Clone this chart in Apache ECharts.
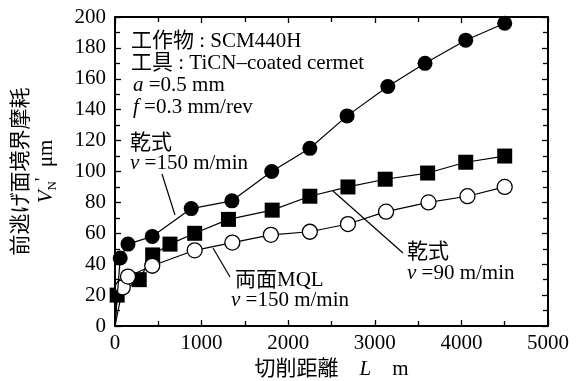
<!DOCTYPE html>
<html lang="ja">
<head>
<meta charset="utf-8">
<script src="https://cdn.jsdelivr.net/npm/echarts@6/dist/echarts.min.js"></script>
<style>html,body{margin:0;padding:0;background:#fff;}</style>
</head>
<body>
<div id="wearChart" style="width:579px;height:381px;"></div>
<script type="text/javascript">

// cutting length L (m) and flank notch wear VN' (um)
var lenDry150  = [0, 60, 150, 430, 880, 1350, 1810, 2250, 2680, 3150, 3580, 4050, 4500];
var wearDry150 = [0, 44, 53, 58, 76, 81, 100, 115, 136, 155, 170, 185, 196];

var lenDry90  = [0, 25, 280, 435, 635, 920, 1310, 1815, 2250, 2690, 3120, 3610, 4050, 4500];
var wearDry90 = [0, 20, 30, 46, 53, 60, 69, 75, 84, 90, 95, 99, 106, 110];

var lenMql150  = [0, 90, 150, 430, 920, 1355, 1800, 2250, 2690, 3130, 3620, 4070, 4500];
var wearMql150 = [0, 25, 32, 39, 49, 54, 59, 61, 66, 74, 80, 84, 90];

var xTicks = [0, 1000, 2000, 3000, 4000, 5000];
var yTicks = [0, 20, 40, 60, 80, 100, 120, 140, 160, 180, 200];

var FONT = "'Liberation Serif', 'Noto Sans CJK JP', serif";
var FS = 21;

function pairs(xs, ys) {
    return xs.map(function (x, i) {
        var item = { value: [x, ys[i]] };
        if (i === 0) item.symbol = 'none';   // line starts at the origin, no marker
        return item;
    });
}

function frameAxis(pos, ticks, showLabel) {
    return {
        type: 'value',
        position: pos,
        min: ticks[0],
        max: ticks[ticks.length - 1],
        interval: ticks[1] - ticks[0],
        axisLine: { show: true, onZero: false, lineStyle: { color: '#000', width: 2 } },
        axisTick: { show: true, inside: true, length: 6, lineStyle: { color: '#000', width: 1.3 } },
        minorTick: { show: true, splitNumber: 2, length: 5, lineStyle: { color: '#000', width: 1.3 } },
        splitLine: { show: false },
        axisLabel: {
            show: showLabel, color: '#000', fontFamily: FONT, fontSize: FS,
            formatter: function (v) { return String(v); }
        }
    };
}

function label(x, y, rich, text) {
    return {
        type: 'text', x: x, y: y,
        style: { text: text, rich: rich, font: FS + 'px ' + FONT, fill: '#000', verticalAlign: 'middle' }
    };
}

function leader(x1, y1, x2, y2) {
    return {
        type: 'line',
        shape: { x1: x1, y1: y1, x2: x2, y2: y2 },
        style: { stroke: '#000', lineWidth: 1.2 }
    };
}

function createWearChart() {
    var chart = echarts.init(document.getElementById('wearChart'));

    var rich = {
        it: { fontFamily: FONT, fontSize: FS, fontStyle: 'italic', fill: '#000' }
    };

    var xMain = frameAxis('bottom', xTicks, true);
    xMain.axisLabel.margin = 7;
    xMain.name = '{t|切削距離　}{i|L}{t|　m}';
    xMain.nameLocation = 'middle';
    xMain.nameGap = 30;
    xMain.nameTextStyle = {
        rich: {
            t: { fontFamily: FONT, fontSize: FS, color: '#000' },
            i: { fontFamily: FONT, fontSize: FS, fontStyle: 'italic', color: '#000' }
        }
    };
    var xTop = frameAxis('top', xTicks, false);

    var yMain = frameAxis('left', yTicks, true);
    yMain.axisLabel.margin = 9;
    yMain.name = '{t|前逃げ面境界摩耗}\n{i|V}{s|N}{p|\'}{t|  μm}';
    yMain.nameLocation = 'middle';
    yMain.nameRotate = 90;
    yMain.nameGap = 56;
    yMain.nameTextStyle = {
        lineHeight: 25,
        rich: {
            t: { fontFamily: FONT, fontSize: FS, color: '#000', lineHeight: 25 },
            i: { fontFamily: FONT, fontSize: FS, fontStyle: 'italic', color: '#000', lineHeight: 25 },
            s: { fontFamily: FONT, fontSize: 13, color: '#000', verticalAlign: 'bottom', lineHeight: 25 },
            p: { fontFamily: FONT, fontSize: 18, color: '#000', verticalAlign: 'top', lineHeight: 25 }
        }
    };
    var yRight = frameAxis('right', yTicks, false);

    var lineStyle = { color: '#000', width: 1.2 };

    var option = {
        animation: false,
        backgroundColor: '#fff',
        grid: { left: 115, right: 31, top: 17, bottom: 55, containLabel: false, outerBoundsMode: 'none' },
        xAxis: [xMain, xTop],
        yAxis: [yMain, yRight],
        series: [
            {
                name: '乾式 v=90 m/min',
                type: 'line',
                data: pairs(lenDry90, wearDry90),
                symbol: 'rect',
                symbolSize: 15,
                itemStyle: { color: '#000' },
                lineStyle: lineStyle,
                z: 2
            },
            {
                name: '両面MQL v=150 m/min',
                type: 'line',
                data: pairs(lenMql150, wearMql150),
                symbol: 'circle',
                symbolSize: 15,
                itemStyle: { color: '#fff', borderColor: '#000', borderWidth: 1.3 },
                lineStyle: lineStyle,
                z: 3
            },
            {
                name: '乾式 v=150 m/min',
                type: 'line',
                data: pairs(lenDry150, wearDry150),
                symbol: 'circle',
                symbolSize: 15,
                itemStyle: { color: '#000' },
                lineStyle: lineStyle,
                z: 4
            }
        ],
        graphic: [
            label(131, 41, rich, '工作物 : SCM440H'),
            label(131, 63, rich, '工具 : TiCN–coated cermet'),
            label(133, 85, rich, '{it|a} =0.5 mm'),
            label(133, 107, rich, '{it|f} =0.3 mm/rev'),
            label(130, 143, rich, '乾式'),
            label(130, 163, rich, '{it|v} =150 m/min'),
            label(235, 280, rich, '両面MQL'),
            label(231, 300, rich, '{it|v} =150 m/min'),
            label(407, 252, rich, '乾式'),
            label(407, 273, rich, '{it|v} =90 m/min'),
            leader(162, 174, 175, 215),
            leader(213, 248, 230, 277),
            leader(333, 191, 403, 253)
        ]
    };

    chart.setOption(option);
}
createWearChart();
</script>
</body>
</html>
